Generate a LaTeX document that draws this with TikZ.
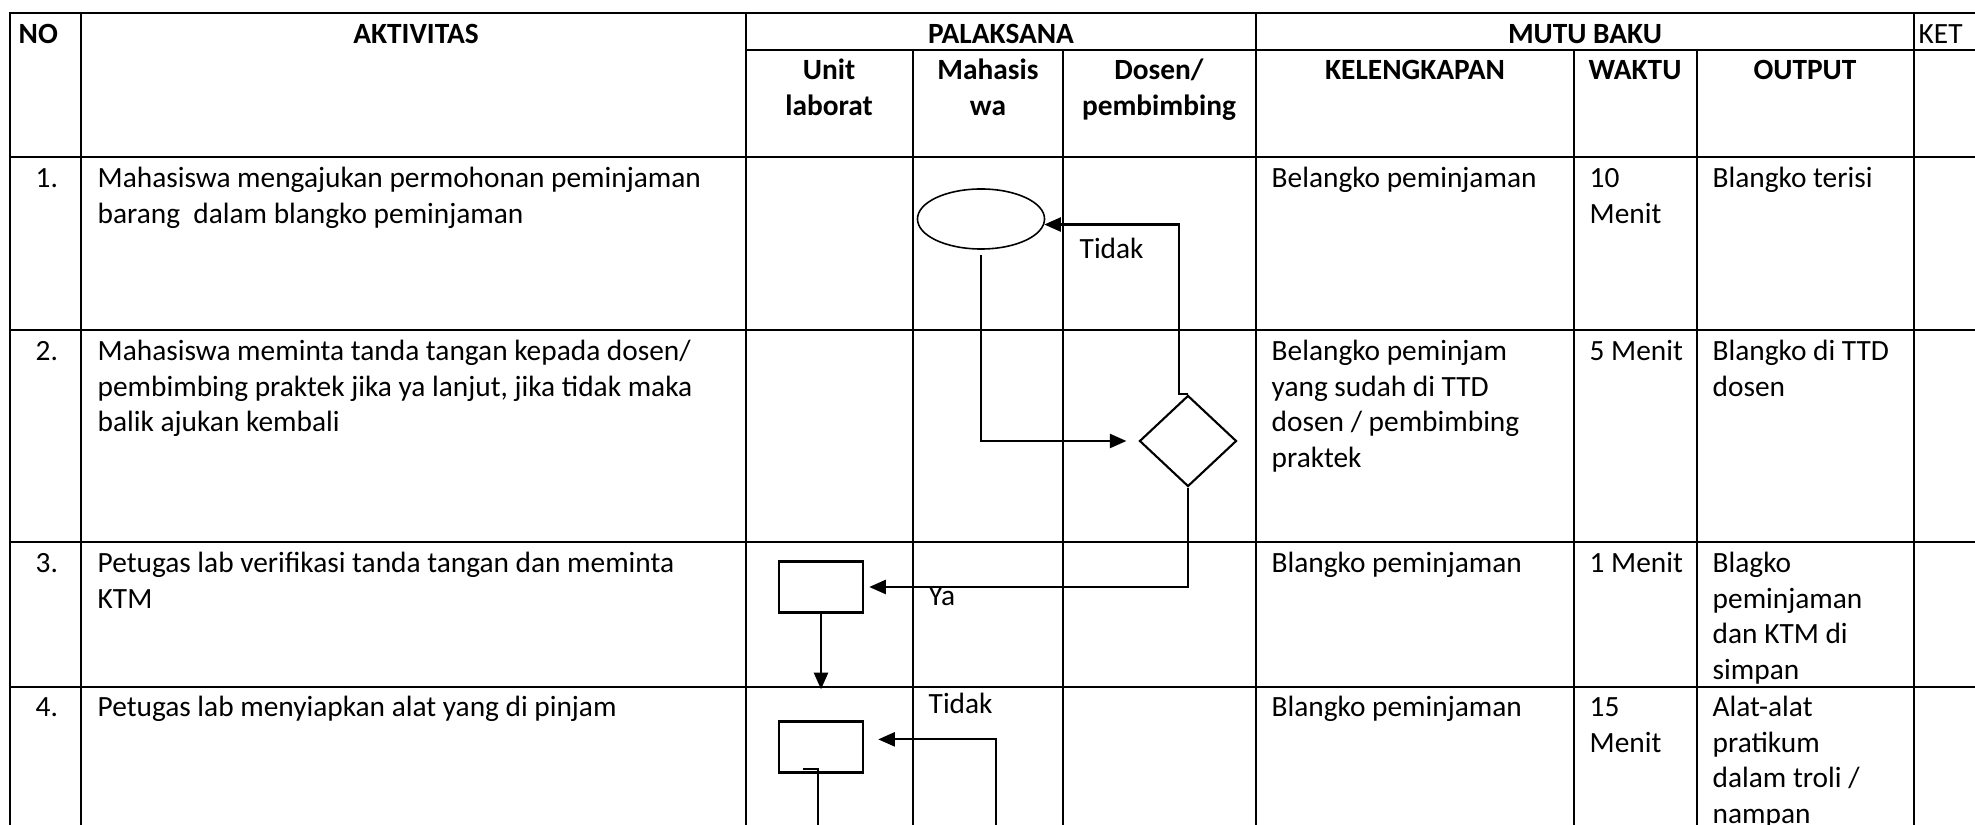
\documentclass[tikz,border=0pt]{standalone}
\usepackage{fontspec}
\setmainfont{Carlito}
\usetikzlibrary{shapes.geometric}
\usetikzlibrary{arrows.meta}
\tikzset{%
    tbl/.style={line width=0.7pt},
    txt/.style={anchor=north west,inner sep=0pt,align=left,font=\fontsize{8.35}{10.13}\selectfont,execute at begin node=\strut},
    hd/.style={anchor=north,inner sep=0pt,align=center,font=\fontsize{8.35}{10.13}\selectfont\bfseries,execute at begin node=\strut},
    proc/.style={draw,line width=0.7pt,minimum width=0.84cm,minimum height=0.51cm,inner sep=0pt},
    term/.style={draw,ellipse,line width=0.45pt,minimum width=1.27cm,minimum height=0.6cm,inner sep=0pt},
    dec/.style={draw,diamond,line width=0.6pt,minimum width=0.97cm,minimum height=0.91cm,inner sep=0pt},
    flow/.style={line width=0.6pt,-{Triangle[length=4.7pt,width=4pt]}},
    link/.style={line width=0.6pt}
}

\begin{document}
\begin{tikzpicture}[x=0.01cm,y=-0.01cm]
        \useasboundingbox (0,0) rectangle (1975,825);
        \clip (0,0) rectangle (1975,825);

        \draw[tbl] (10,830) -- (10,13) -- (1980,13);
        \draw[tbl] (746,50) -- (1980,50);
        \draw[tbl] (10,157) -- (1980,157);
        \draw[tbl] (10,330) -- (1980,330);
        \draw[tbl] (10,542) -- (1980,542);
        \draw[tbl] (10,687) -- (1980,687);
        \draw[tbl] (81,13) -- (81,830);
        \draw[tbl] (746,13) -- (746,830);
        \draw[tbl] (1256,13) -- (1256,830);
        \draw[tbl] (1914,13) -- (1914,830);
        \draw[tbl] (913,50) -- (913,830);
        \draw[tbl] (1063,50) -- (1063,830);
        \draw[tbl] (1574,50) -- (1574,830);
        \draw[tbl] (1697,50) -- (1697,830);

        \node[txt,font=\fontsize{8.35}{10.13}\selectfont\bfseries] (hNo) at (18,18) {NO};
        \node[hd] (hAkt) at (416,18) {AKTIVITAS};
        \node[hd] (hPel) at (1001,18) {PALAKSANA};
        \node[hd] (hMutu) at (1585,18) {MUTU BAKU};
        \node[txt] (hKet) at (1918,18) {KET};
        \node[hd] (hUnit) at (829,54) {\strut Unit\\laborat};
        \node[hd] (hMhs) at (988,54) {\strut Mahasis\\wa};
        \node[hd] (hDsn) at (1159,54) {\strut Dosen/\\pembimbing};
        \node[hd] (hKel) at (1415,54) {KELENGKAPAN};
        \node[hd] (hWkt) at (1635,54) {WAKTU};
        \node[hd] (hOut) at (1805,54) {OUTPUT};

        \node[txt] (n1) at (35,162) {1.};
        \node[txt] (a1) at (97,162) {\strut Mahasiswa mengajukan permohonan peminjaman\\barang~ dalam blangko peminjaman};
        \node[txt] (k1) at (1271,162) {Belangko peminjaman};
        \node[txt] (w1) at (1589,162) {\strut 10\\Menit};
        \node[txt] (o1) at (1712,162) {Blangko terisi};

        \node[txt] (n2) at (35,335) {2.};
        \node[txt] (a2) at (97,335) {\strut Mahasiswa meminta tanda tangan kepada dosen/\\pembimbing praktek jika ya lanjut, jika tidak maka\\balik ajukan kembali};
        \node[txt] (k2) at (1271,335) {\strut Belangko peminjam\\yang sudah di TTD\\dosen / pembimbing\\praktek};
        \node[txt] (w2) at (1589,335) {5 Menit};
        \node[txt] (o2) at (1712,335) {\strut Blangko di TTD\\dosen};

        \node[txt] (n3) at (35,547) {3.};
        \node[txt] (a3) at (97,547) {\strut Petugas lab verifikasi tanda tangan dan meminta\\KTM};
        \node[txt] (k3) at (1271,547) {Blangko peminjaman};
        \node[txt] (w3) at (1589,547) {1 Menit};
        \node[txt] (o3) at (1712,547) {\strut Blagko\\peminjaman\\dan KTM di\\simpan};

        \node[txt] (n4) at (35,691) {4.};
        \node[txt] (a4) at (97,691) {Petugas lab menyiapkan alat yang di pinjam};
        \node[txt] (k4) at (1271,691) {Blangko peminjaman};
        \node[txt] (w4) at (1589,691) {\strut 15\\Menit};
        \node[txt] (o4) at (1712,691) {\strut Alat-alat\\pratikum\\dalam troli /\\nampan};

        \node[term] (ell) at (981,219) {};
        \node[dec] (dia) at (1188,441) {};
        \node[proc] (box1) at (821,587) {};
        \node[proc] (box2) at (821,747) {};
        \node[txt] (tdk1) at (1079,233) {Tidak};
        \node[txt] (ya) at (928,580) {Ya};
        \node[txt] (tdk2) at (928,688) {Tidak};
        \coordinate (inB) at (996,830);
        \coordinate (outA) at (803,769);
        \coordinate (endA) at (818,830);

        \draw[flow,shorten <=0.05cm,shorten >=0.12cm] (ell.south) |- (dia.west);
        \draw[flow] (dia.north) -- ++(-9,0) |- (ell.-5);
        \draw[flow,shorten >=0.05cm] (dia.south) |- (box1.east);
        \draw[flow,shorten >=0.31cm] (box1.south) -- (box2.north);
        \draw[flow,shorten >=0.14cm] (inB) |- (box2.10);
        \draw[link] (outA) -| (endA);
    \end{tikzpicture}
\end{document}
